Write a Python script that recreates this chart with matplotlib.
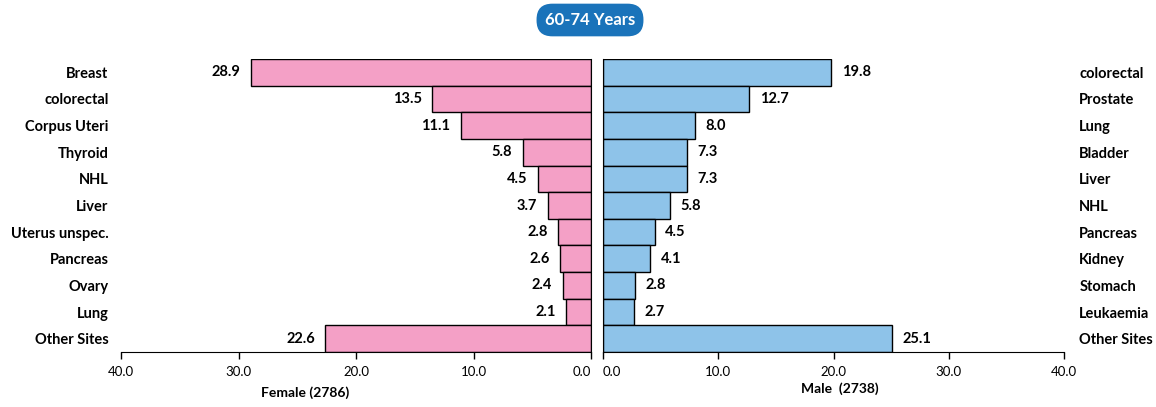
import matplotlib.pyplot as plt
import numpy as np

plt.rcParams['font.family'] = ['Lato', 'DejaVu Sans']

female_sites = ['Breast', 'colorectal', 'Corpus Uteri', 'Thyroid', 'NHL', 'Liver',
                'Uterus unspec.', 'Pancreas', 'Ovary', 'Lung', 'Other Sites']
female_vals = [28.9, 13.5, 11.1, 5.8, 4.5, 3.7, 2.8, 2.6, 2.4, 2.1, 22.6]

male_sites = ['colorectal', 'Prostate', 'Lung', 'Bladder', 'Liver', 'NHL',
              'Pancreas', 'Kidney', 'Stomach', 'Leukaemia', 'Other Sites']
male_vals = [19.8, 12.7, 8.0, 7.3, 7.3, 5.8, 4.5, 4.1, 2.8, 2.7, 25.1]

xticks = [0, 10, 20, 30, 40]
title = '60-74 Years'
female_label = 'Female (2786)'
male_label = 'Male  (2738)'

pink = '#f4a0c6'
blue = '#8ec3e9'

fig = plt.figure(figsize=(11.56, 4.07), dpi=100)
axL = fig.add_axes([121 / 1156, 1 - 352 / 407, 470 / 1156, 293 / 407])
axR = fig.add_axes([603 / 1156, 1 - 352 / 407, 461 / 1156, 293 / 407])

y = np.arange(len(female_vals))

axL.barh(y, female_vals, height=1.0, color=pink, edgecolor='black', linewidth=1)
axR.barh(y, male_vals, height=1.0, color=blue, edgecolor='black', linewidth=1)

for ax in (axL, axR):
    ax.set_ylim(len(y) - 0.5, -0.5)
    ax.set_xlim(0, 40)
    ax.set_xticks(xticks)
    ax.set_xticklabels([f'{t:.1f}' for t in xticks], fontsize=9.5)
    ax.tick_params(axis='x', direction='out', length=5, pad=5, width=1)
    ax.tick_params(axis='y', length=0)
    ax.spines['top'].set_visible(False)

axL.invert_xaxis()
axL.spines['left'].set_visible(False)
axL.set_yticks(y)
axL.set_yticklabels(female_sites, fontsize=10.5, fontweight='bold')
axL.tick_params(axis='y', pad=9)
axL.get_xticklabels()[0].set_ha('right')

axR.spines['right'].set_visible(False)
axR.yaxis.tick_right()
axR.set_yticks(y)
axR.set_yticklabels(male_sites, fontsize=10.5, fontweight='bold')
axR.tick_params(axis='y', pad=11, length=0)
axR.get_xticklabels()[0].set_ha('left')

for yi, v in zip(y, female_vals):
    axL.text(v + 0.9, yi, f'{v:.1f}', ha='right', va='center',
             fontsize=10.5, fontweight='bold')
for yi, v in zip(y, male_vals):
    axR.text(v + 0.9, yi, f'{v:.1f}', ha='left', va='center',
             fontsize=10.5, fontweight='bold')

fig.text(305 / 1156, 1 - 393 / 407, female_label, ha='center', va='center',
         fontsize=10, fontweight='bold')
fig.text(840 / 1156, 1 - 389 / 407, male_label, ha='center', va='center',
         fontsize=10, fontweight='bold')

fig.text(590 / 1156, 1 - 20 / 407, title, ha='center', va='center',
         fontsize=12, fontweight='bold', color='white',
         bbox=dict(boxstyle='round,pad=0.5,rounding_size=0.95',
                   facecolor='#1a73ba', edgecolor='none'))

fig.savefig('out.png', dpi=100)
